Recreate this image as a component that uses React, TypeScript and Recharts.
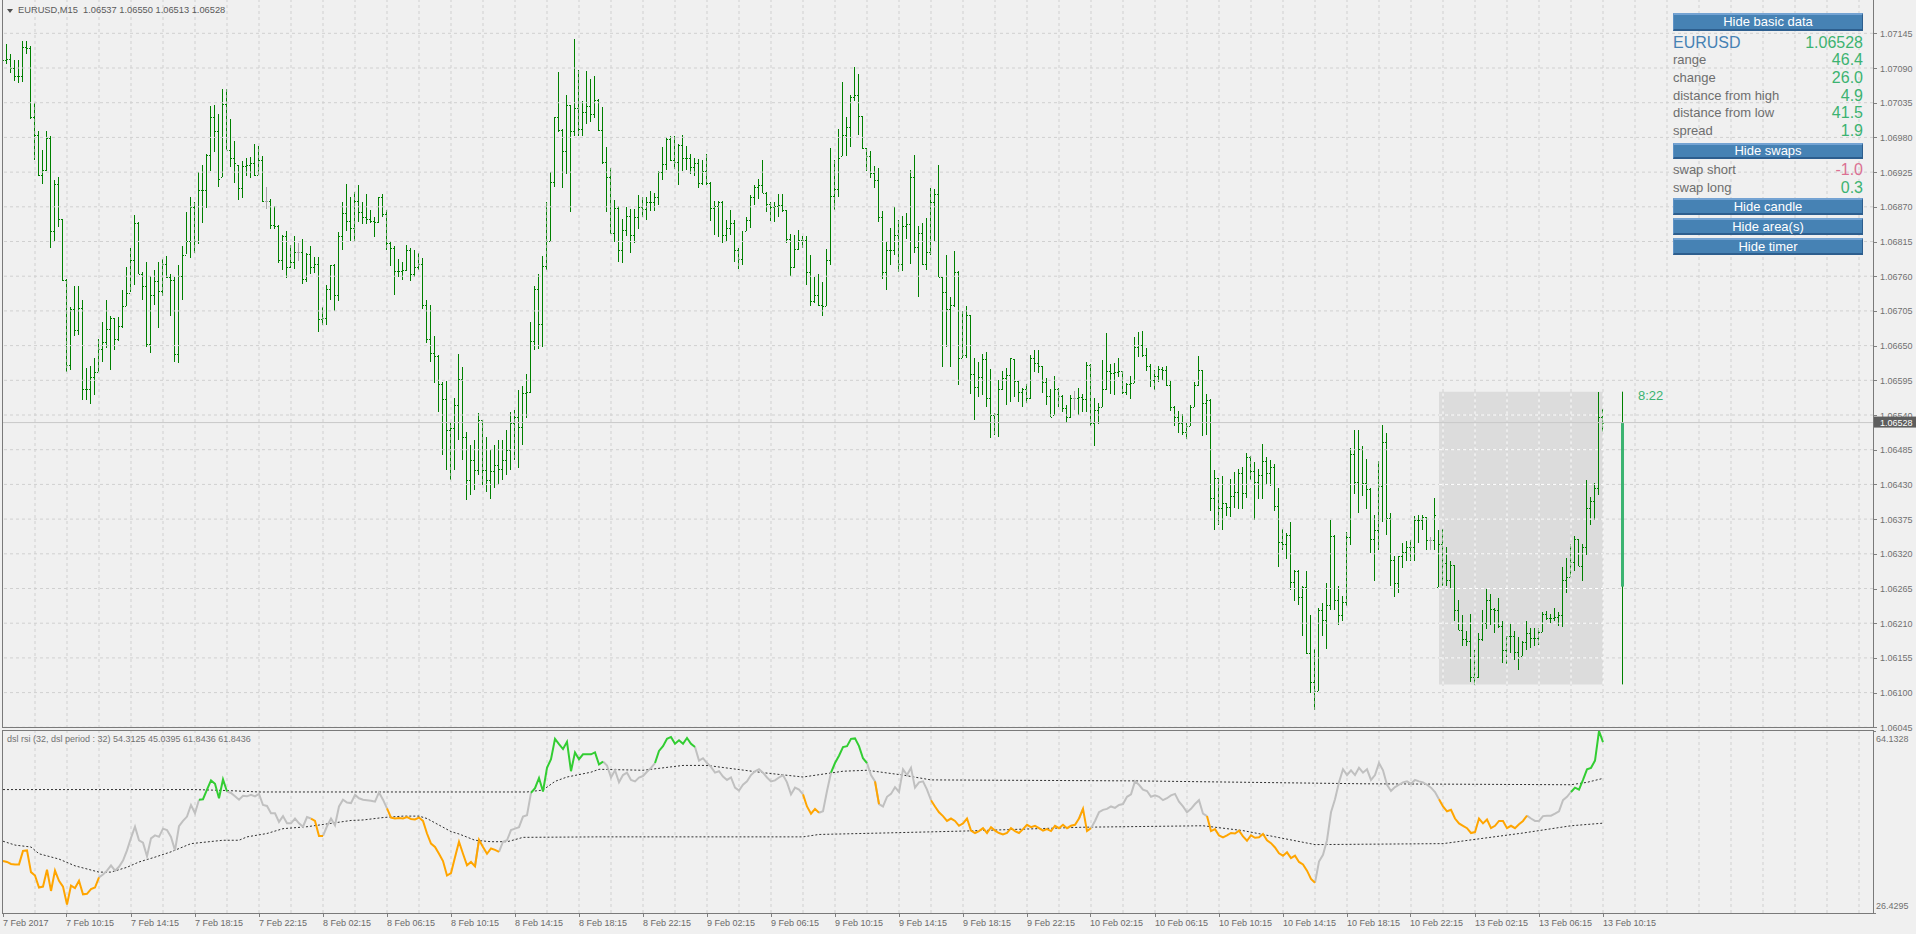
import React from 'react';
import { ComposedChart, Bar, Line, XAxis, YAxis, ReferenceLine, ReferenceArea } from 'recharts';

// EURUSD M15, prices in points (0.00001) above BASE
const BASE = 1.06;

const highs = [
  1120, 1128, 1112, 1103, 1103, 1133, 1133, 1125, 1034, 990, 960, 990, 982, 913, 917, 851, 756, 711, 744, 744,
  723, 614, 617, 630, 661, 688, 722, 697, 694, 696, 738, 775, 804, 857, 846, 766, 783, 761, 770, 782,
  788, 792, 763, 759, 778, 808, 861, 885, 877, 925, 936, 954, 1030, 1031, 1017, 1057, 1056, 1009, 974, 937,
  943, 947, 949, 970, 966, 951, 902, 882, 872, 841, 825, 832, 810, 824, 813, 819, 796, 808, 791, 791,
  711, 746, 778, 779, 830, 877, 906, 886, 894, 905, 877, 891, 865, 854, 886, 890, 865, 816, 808, 788,
  783, 809, 805, 801, 797, 789, 723, 714, 665, 635, 593, 594, 529, 567, 637, 616, 513, 492, 500, 543,
  532, 505, 485, 492, 500, 500, 516, 545, 548, 580, 586, 605, 688, 744, 764, 792, 878, 925, 1013, 1083,
  994, 1047, 1031, 1136, 1087, 1037, 1085, 1073, 1077, 1041, 1028, 965, 931, 881, 871, 851, 869, 866, 866, 889,
  886, 885, 895, 892, 926, 965, 980, 982, 982, 970, 984, 966, 954, 948, 946, 944, 954, 909, 879, 880,
  880, 849, 865, 849, 804, 832, 854, 889, 905, 914, 944, 894, 877, 878, 891, 890, 865, 827, 825, 833,
  824, 824, 794, 759, 764, 751, 803, 963, 944, 993, 1068, 1013, 1047, 1092, 1080, 1014, 964, 958, 935, 931,
  864, 816, 836, 869, 849, 856, 860, 928, 952, 839, 844, 852, 900, 899, 936, 759, 794, 727, 800, 769,
  705, 713, 699, 631, 624, 637, 640, 613, 543, 596, 610, 614, 631, 629, 594, 583, 589, 635, 643, 643,
  617, 598, 581, 602, 583, 571, 556, 572, 578, 583, 574, 624, 621, 567, 559, 627, 670, 621, 623, 631,
  610, 591, 602, 664, 671, 673, 646, 621, 611, 618, 616, 618, 594, 555, 547, 541, 527, 556, 592, 633,
  612, 573, 566, 453, 440, 443, 400, 438, 450, 454, 458, 479, 475, 466, 454, 494, 473, 469, 463, 424,
  359, 353, 370, 295, 294, 269, 293, 223, 169, 234, 242, 273, 374, 350, 269, 253, 354, 488, 517, 516,
  491, 470, 425, 382, 467, 524, 511, 384, 316, 317, 337, 340, 342, 380, 382, 381, 379, 346, 409, 358,
  359, 330, 308, 302, 247, 223, 197, 225, 168, 195, 231, 265, 256, 234, 250, 214, 190, 209, 197, 188,
  182, 214, 202, 202, 203, 228, 229, 224, 234, 228, 299, 314, 335, 349, 343, 335, 437, 410, 433, 577,
  550,
];

const lows = [
  1066, 1096, 1082, 1070, 1067, 1068, 1112, 1009, 944, 918, 906, 927, 804, 815, 838, 752, 609, 611, 665, 666,
  564, 564, 556, 572, 608, 625, 646, 611, 643, 658, 677, 713, 734, 746, 763, 722, 649, 639, 714, 677,
  729, 757, 696, 625, 623, 723, 794, 788, 796, 811, 844, 869, 927, 956, 902, 918, 959, 933, 907, 881,
  885, 919, 915, 920, 920, 878, 867, 834, 836, 780, 769, 758, 773, 771, 785, 747, 750, 763, 766, 672,
  682, 682, 722, 704, 721, 801, 831, 816, 816, 847, 842, 844, 844, 823, 844, 853, 802, 777, 731, 759,
  755, 767, 753, 758, 770, 708, 655, 623, 591, 545, 477, 453, 437, 453, 500, 469, 405, 413, 421, 445,
  429, 418, 408, 424, 429, 437, 445, 453, 469, 456, 492, 535, 576, 642, 645, 647, 770, 816, 902, 988,
  900, 922, 861, 982, 982, 981, 1001, 1005, 1010, 991, 938, 862, 827, 815, 782, 782, 823, 796, 812, 835,
  854, 849, 864, 864, 872, 913, 928, 943, 930, 905, 927, 928, 922, 920, 900, 904, 905, 847, 825, 823,
  813, 816, 825, 782, 771, 778, 832, 836, 873, 883, 891, 862, 847, 847, 854, 861, 812, 760, 772, 802,
  805, 746, 713, 717, 713, 697, 712, 777, 865, 886, 951, 951, 964, 1038, 984, 962, 927, 915, 900, 846,
  756, 739, 778, 793, 766, 769, 818, 779, 797, 726, 777, 769, 794, 817, 758, 616, 648, 616, 712, 589,
  631, 631, 573, 533, 569, 572, 553, 504, 508, 506, 580, 556, 561, 569, 561, 553, 559, 565, 608, 606,
  574, 555, 536, 540, 553, 544, 528, 535, 548, 540, 545, 544, 523, 491, 525, 553, 580, 574, 573, 601,
  573, 572, 565, 591, 631, 631, 609, 585, 580, 593, 596, 586, 547, 524, 512, 508, 502, 522, 552, 585,
  507, 508, 388, 358, 366, 357, 379, 377, 393, 391, 391, 407, 437, 374, 407, 407, 428, 428, 388, 298,
  326, 312, 262, 246, 238, 189, 161, 99, 73, 102, 189, 169, 231, 231, 207, 214, 237, 334, 416, 385,
  412, 390, 322, 278, 326, 371, 350, 268, 251, 259, 298, 308, 308, 308, 338, 357, 326, 325, 326, 268,
  269, 268, 265, 214, 199, 174, 173, 117, 113, 124, 182, 202, 207, 195, 202, 148, 145, 163, 151, 135,
  158, 168, 170, 173, 176, 196, 215, 209, 213, 206, 204, 258, 283, 294, 300, 276, 318, 366, 375, 413,
  513,
];

const closes = [
  1103, 1104, 1090, 1077, 1078, 1124, 1121, 1013, 984, 920, 928, 979, 831, 906, 850, 754, 620, 708, 674, 710,
  582, 581, 600, 608, 644, 655, 676, 693, 660, 681, 713, 734, 786, 845, 764, 744, 653, 730, 752, 737,
  779, 758, 754, 636, 760, 793, 816, 870, 816, 897, 896, 952, 1012, 990, 914, 1033, 960, 947, 939, 900,
  935, 937, 940, 921, 944, 879, 879, 841, 840, 785, 824, 775, 782, 798, 798, 755, 795, 775, 779, 692,
  693, 739, 777, 731, 824, 860, 847, 836, 879, 862, 854, 850, 847, 846, 885, 859, 813, 804, 769, 768,
  770, 801, 764, 775, 779, 714, 660, 639, 634, 589, 566, 516, 519, 556, 597, 505, 437, 469, 453, 532,
  453, 437, 452, 461, 454, 469, 485, 527, 537, 521, 575, 577, 658, 739, 685, 776, 816, 910, 1012, 992,
  959, 1032, 990, 1026, 993, 1020, 1030, 1017, 1040, 992, 941, 918, 829, 868, 801, 834, 855, 825, 854, 869,
  866, 878, 877, 886, 925, 938, 977, 944, 941, 968, 948, 947, 933, 939, 908, 926, 907, 868, 871, 877,
  825, 836, 844, 802, 788, 816, 849, 886, 902, 905, 892, 875, 870, 871, 873, 865, 819, 774, 803, 817,
  818, 767, 721, 731, 714, 712, 785, 887, 898, 947, 984, 996, 1044, 1047, 1014, 964, 950, 923, 912, 854,
  766, 802, 801, 825, 779, 840, 843, 918, 806, 828, 779, 799, 878, 890, 759, 735, 708, 714, 767, 631,
  635, 699, 605, 585, 601, 629, 567, 540, 542, 582, 598, 603, 630, 594, 577, 582, 567, 631, 622, 617,
  593, 570, 537, 582, 570, 551, 537, 567, 567, 569, 566, 620, 527, 548, 553, 582, 609, 606, 608, 609,
  577, 589, 591, 648, 651, 635, 618, 596, 602, 613, 612, 587, 553, 537, 527, 513, 522, 553, 587, 612,
  559, 564, 408, 440, 392, 400, 394, 411, 418, 448, 417, 474, 452, 434, 445, 467, 448, 458, 396, 338,
  335, 350, 276, 292, 252, 268, 162, 117, 103, 231, 215, 239, 348, 247, 223, 243, 347, 478, 434, 486,
  432, 423, 343, 358, 427, 497, 376, 310, 273, 316, 323, 331, 330, 373, 374, 379, 342, 342, 381, 336,
  305, 279, 302, 231, 200, 185, 182, 125, 124, 185, 210, 246, 232, 231, 205, 167, 189, 190, 165, 156,
  181, 194, 187, 186, 196, 225, 219, 218, 220, 223, 278, 283, 307, 343, 300, 330, 392, 403, 424, 537,
  528,
];

// opens follow the previous close except where a gap is visible
const gapOpens: Record<number, number> = { 0: 1105, 359: 268 };
const dojiBars = [66, 74, 268, 357];

// today's candle, range box, last price
const dayCandle = { i: 405, open: 268, high: 577, low: 113, close: 528 };
const dayBox = { from: 359, to: 400, high: 577, low: 113 };
const lastPrice = 528;

const priceTicks = [45, 100, 155, 210, 265, 320, 375, 430, 485, 540, 595, 650, 705, 760, 815, 870, 925, 980, 1035, 1090, 1145];

const timeLabels = [
  '7 Feb 2017', '7 Feb 10:15', '7 Feb 14:15', '7 Feb 18:15', '7 Feb 22:15',
  '8 Feb 02:15', '8 Feb 06:15', '8 Feb 10:15', '8 Feb 14:15', '8 Feb 18:15', '8 Feb 22:15',
  '9 Feb 02:15', '9 Feb 06:15', '9 Feb 10:15', '9 Feb 14:15', '9 Feb 18:15', '9 Feb 22:15',
  '10 Feb 02:15', '10 Feb 06:15', '10 Feb 10:15', '10 Feb 14:15', '10 Feb 18:15', '10 Feb 22:15',
  '13 Feb 02:15', '13 Feb 06:15', '13 Feb 10:15',
];
const labelEvery = 16;
const gridEvery = 8;

// dsl rsi
const rsi = [
  37.2, 37.0, 36.6, 36.5, 36.5, 39.3, 39.4, 34.9, 34.2, 31.7, 31.9, 35.4, 31.0, 35.2, 33.1, 31.9, 28.2, 32.1, 31.6, 33.1,
  30.3, 30.4, 31.4, 31.7, 33.8, 34.4, 35.2, 36.3, 35.2, 36.0, 37.3, 39.4, 42.0, 44.3, 41.5, 41.0, 38.2, 41.9, 42.5, 42.2,
  43.9, 43.6, 42.2, 39.4, 44.4, 45.5, 46.4, 48.8, 47.1, 49.9, 50.0, 52.0, 53.9, 53.2, 50.2, 54.1, 51.6, 51.3, 50.6, 49.9,
  50.7, 50.6, 50.9, 50.6, 51.1, 48.8, 48.6, 47.1, 47.1, 45.3, 46.5, 45.0, 45.0, 46.0, 45.0, 44.3, 46.3, 46.0, 45.5, 42.4,
  42.4, 44.4, 46.0, 44.6, 48.5, 49.9, 49.3, 49.2, 50.9, 50.2, 49.9, 49.8, 49.7, 49.5, 51.4, 49.9, 48.1, 46.2, 46.0, 46.1,
  46.0, 46.3, 45.9, 45.8, 46.2, 45.5, 42.9, 40.8, 40.1, 38.7, 37.2, 34.2, 34.7, 38.0, 41.2, 38.7, 36.3, 37.0, 36.1, 41.6,
  40.1, 38.7, 39.8, 39.5, 39.1, 41.2, 41.5, 43.6, 43.9, 44.2, 46.4, 46.7, 51.3, 52.3, 54.4, 51.6, 56.5, 58.3, 62.5, 61.4,
  60.4, 61.9, 55.8, 59.7, 58.3, 59.3, 59.3, 59.3, 59.7, 57.2, 57.8, 57.0, 54.5, 56.0, 53.5, 55.0, 55.5, 54.0, 53.7, 54.5,
  54.8, 55.7, 56.5, 57.5, 60.0, 61.0, 62.5, 62.9, 61.5, 62.2, 61.5, 62.7, 61.5, 60.8, 58.0, 58.5, 57.5, 56.7, 55.5, 55.8,
  54.7, 54.0, 54.5, 52.4, 51.8, 53.0, 53.7, 55.0, 55.8, 56.2, 55.5, 54.5, 53.7, 53.9, 54.5, 55.0, 53.5, 51.0, 52.4, 52.0,
  51.0, 48.5, 47.0, 48.0, 47.2, 47.5, 51.7, 55.5, 57.5, 59.0, 60.8, 61.0, 62.5, 62.6, 61.0, 58.5, 57.5, 55.0, 53.7, 49.0,
  48.5, 50.5, 51.1, 52.5, 51.5, 56.2, 55.0, 56.5, 52.4, 53.5, 53.7, 52.0, 49.8, 48.5, 47.3, 46.5, 45.5, 46.0, 45.5, 44.5,
  45.0, 46.0, 43.5, 43.0, 43.4, 44.0, 43.0, 44.2, 43.5, 43.0, 42.7, 43.0, 44.0, 43.4, 43.0, 43.8, 44.7, 44.2, 44.5, 44.0,
  43.5, 43.8, 43.4, 44.5, 44.0, 44.7, 44.0, 44.5, 44.7, 46.0, 48.0, 43.4, 44.0, 45.5, 47.3, 47.8, 48.0, 48.5, 48.2, 48.8,
  49.0, 50.5, 51.0, 53.7, 53.0, 52.0, 51.7, 50.5, 50.8, 50.5, 49.8, 50.2, 50.8, 51.1, 49.5, 48.5, 47.3, 48.0, 49.0, 49.8,
  47.0, 46.5, 43.4, 43.8, 42.5, 42.1, 42.5, 43.0, 42.9, 43.5, 42.3, 41.4, 42.5, 42.0, 42.1, 42.8, 41.5, 40.9, 40.0, 38.8,
  38.3, 39.0, 37.8, 38.3, 37.0, 36.5, 35.2, 33.5, 32.7, 37.1, 38.5, 41.5, 47.3, 50.0, 53.5, 56.2, 55.0, 56.0, 55.0, 56.5,
  55.5, 56.2, 54.0, 55.0, 57.5, 56.0, 53.0, 51.7, 52.5, 53.0, 53.5, 53.7, 53.2, 54.0, 53.7, 53.5, 53.0, 52.4, 51.5, 50.0,
  48.5, 47.5, 47.8, 46.0, 45.0, 44.5, 44.0, 43.0, 43.2, 46.0, 45.0, 45.8, 44.0, 44.5, 45.5, 45.5, 44.0, 44.5, 44.0, 44.8,
  45.5, 46.6, 46.0, 45.5, 45.5, 46.5, 46.6, 46.6, 47.0, 47.5, 49.8, 50.5, 51.5, 52.4, 52.0, 54.0, 56.2, 56.5, 58.0, 64.13,
  61.84,
];

// signal levels read at bars where they can be placed
const upperLevel: [number, number][] = [
  [0, 52.0], [48, 52.0], [56, 51.8], [64, 51.5], [131, 51.5], [135, 51.9], [138, 53.7], [141, 54.6], [144, 55.1],
  [147, 55.6], [149, 56.2], [160, 56.0], [170, 57.0], [176, 57.0], [190, 55.5], [200, 54.6], [210, 55.8], [216, 56.0],
  [225, 55.0], [232, 54.0], [283, 53.8], [340, 53.2], [392, 53.0], [396, 53.5], [400, 54.31],
];
const lowerLevel: [number, number][] = [
  [0, 41.3], [3, 40.5], [7, 40.1], [9, 38.7], [14, 37.6], [18, 36.2], [24, 34.9], [27, 34.9], [31, 35.9], [34, 37.0],
  [38, 38.0], [42, 39.1], [47, 40.8], [55, 41.5], [59, 41.5], [61, 42.2], [66, 42.9], [70, 43.9], [76, 44.3], [82, 45.0],
  [87, 45.6], [90, 45.7], [95, 46.2], [100, 46.5], [104, 46.5], [106, 46.0], [112, 43.3], [114, 42.8], [118, 41.5],
  [122, 41.2], [126, 41.2], [127, 41.4], [130, 42.1], [149, 42.2], [200, 42.2], [204, 42.7], [220, 43.0], [240, 43.4],
  [270, 44.2], [300, 44.5], [310, 43.5], [328, 40.6], [360, 40.8], [380, 43.0], [392, 44.5], [400, 45.04],
];

// colour runs of the rsi line (bar ranges, inclusive)
const greenRuns = [[50, 56], [133, 150], [164, 173], [208, 216], [393, 400]];
const orangeRuns = [[0, 24], [78, 80], [97, 118], [120, 124], [201, 204], [219, 219], [233, 269], [271, 272], [302, 328], [360, 381]];

const RSI_MAX = 64.1328;
const RSI_MIN = 26.4295;

const W = 1916;
const AXIS_W = 43;
const X_DOMAIN: [number, number] = [-0.25, 467.5];
const MAIN_H = 728;
const PRICE_DOMAIN: [number, number] = [43.9, 1197.8];

const FONT = "'Liberation Sans', Arial, sans-serif";
const GRID = '#d0d0d0';
const BAR_GREEN = '#008000';

const fmt = (v: number) => (BASE + v / 100000).toFixed(5);

const priceRows: any[] = highs.map((h, i) => ({
  i,
  high: h,
  low: lows[i],
  close: closes[i],
  open: gapOpens[i] ?? closes[i - 1],
  kind: dojiBars.includes(i) ? 'doji' : 'bar',
}));
priceRows.push({ ...dayCandle, kind: 'candle' });

const inRuns = (runs: number[][], i: number) => runs.some(([a, b]) => i >= a && i <= b);
const colourOf = (i: number) => (inRuns(greenRuns, i) ? 'g' : inRuns(orangeRuns, i) ? 'o' : 's');

const rsiRows: any[] = rsi.map((v, i) => {
  const row: any = { i };
  for (const c of ['g', 'o', 's']) {
    row[c] = colourOf(i) === c || (i + 1 < rsi.length && colourOf(i + 1) === c) ? v : null;
  }
  return row;
});
upperLevel.forEach(([i, v]) => { rsiRows[i].up = v; });
lowerLevel.forEach(([i, v]) => { rsiRows[i].dn = v; });

const gridBars: number[] = [];
for (let k = gridEvery; k <= 464; k += gridEvery) gridBars.push(k);
const labelBars = timeLabels.map((_, k) => k * labelEvery);

const OhlcShape = (props: any) => {
  const { x, y, width, height, payload } = props;
  if (!payload || x == null || isNaN(x)) return null;
  const col = Math.floor(x + width / 2);
  const top = Math.min(y, y + height);
  const h = Math.abs(height);
  const span = payload.high - payload.low || 1;
  const toY = (v: number) => top + ((payload.high - Math.min(payload.high, Math.max(payload.low, v))) / span) * h;
  if (payload.kind === 'candle') {
    const yo = toY(payload.open);
    const yc = toY(payload.close);
    return (
      <g>
        <rect x={col} y={top} width={1} height={h} fill={BAR_GREEN} />
        <rect x={col - 1} y={Math.min(yo, yc)} width={3} height={Math.abs(yo - yc)} fill="#3cb371" />
      </g>
    );
  }
  const color = payload.kind === 'doji' ? '#a9a9a9' : BAR_GREEN;
  return (
    <g fill={color}>
      <rect x={col} y={Math.round(top)} width={1} height={Math.max(1, Math.round(h))} />
      <rect x={col - 1} y={Math.round(toY(payload.open))} width={1} height={1} />
      <rect x={col + 1} y={Math.round(toY(payload.close))} width={1} height={1} />
    </g>
  );
};

const PriceTick = (props: any) => {
  const { x, y, payload } = props;
  if (payload.value === lastPrice) {
    return (
      <g>
        <rect x={x} y={y - 6} width={43} height={11} fill="#5e5e5e" />
        <text x={x + 7} y={y} dy={3.5} fontSize={9} fontFamily={FONT} fill="#ffffff">{fmt(payload.value)}</text>
      </g>
    );
  }
  return (
    <g>
      <rect x={x + 1} y={Math.round(y)} width={3} height={1} fill="#808080" />
      <text x={x + 7} y={y} dy={3.5} fontSize={9} fontFamily={FONT} fill="#707070">{fmt(payload.value)}</text>
    </g>
  );
};

const TimeTick = (props: any) => {
  const { x, y, payload } = props;
  const label = timeLabels[Math.round(payload.value / labelEvery)];
  return (
    <g>
      <rect x={Math.floor(x)} y={y} width={1} height={4} fill="#808080" />
      <text x={Math.floor(x)} y={y + 9} dy={3.5} fontSize={9} fontFamily={FONT} fill="#6a6a6a">{label}</text>
    </g>
  );
};

const RsiTick = (props: any) => {
  const { x, y, payload } = props;
  const isTop = payload.value === RSI_MAX;
  return (
    <g>
      <rect x={x + 1} y={Math.round(y)} width={2} height={1} fill="#808080" />
      <text x={x + 3} y={isTop ? y + 7 : y - 8} dy={3.5} fontSize={9} fontFamily={FONT} fill="#707070">
        {payload.value.toFixed(4)}
      </text>
    </g>
  );
};

const infoRows = [
  { label: 'range', value: '46.4', color: '#3cb371', y: 60 },
  { label: 'change', value: '26.0', color: '#3cb371', y: 78 },
  { label: 'distance from high', value: '4.9', color: '#3cb371', y: 96 },
  { label: 'distance from low', value: '41.5', color: '#3cb371', y: 113 },
  { label: 'spread', value: '1.9', color: '#3cb371', y: 131 },
  { label: 'swap short', value: '-1.0', color: '#db7093', y: 170 },
  { label: 'swap long', value: '0.3', color: '#3cb371', y: 188 },
];
const buttons = [
  { text: 'Hide basic data', top: 13, h: 18 },
  { text: 'Hide swaps', top: 143, h: 16 },
  { text: 'Hide candle', top: 198, h: 17 },
  { text: 'Hide area(s)', top: 218, h: 17 },
  { text: 'Hide timer', top: 238, h: 17 },
];

const abs = (left: number, top: number, extra: React.CSSProperties = {}): React.CSSProperties => ({
  position: 'absolute', left, top, ...extra,
});

export default function App() {
  return (
    <div style={{ position: 'absolute', left: 0, top: 0, width: W, height: 934, background: '#f0f0f0', overflow: 'hidden', fontFamily: FONT }}>
      <style>{'.recharts-surface{overflow:visible}'}</style>
      <div style={abs(0, 0)}>
        <ComposedChart width={W} height={MAIN_H} data={priceRows} margin={{ top: 0, right: 0, bottom: 0, left: 2 }}>
          <XAxis dataKey="i" type="number" domain={X_DOMAIN} hide allowDataOverflow />
          <YAxis
            orientation="right"
            width={AXIS_W}
            domain={PRICE_DOMAIN}
            ticks={[...priceTicks, lastPrice]}
            interval={0}
            tick={<PriceTick />}
            tickSize={0}
            tickMargin={0}
            axisLine={false}
            tickLine={false}
            allowDataOverflow
          />
          <ReferenceArea x1={dayBox.from} x2={dayBox.to} y1={dayBox.low} y2={dayBox.high} fill="#dcdcdc" fillOpacity={1} stroke="none" />
          {gridBars.map((v) => (
            <ReferenceLine key={'gx' + v} x={v} stroke={GRID} strokeDasharray="3 3" />
          ))}
          {priceTicks.map((v) => (
            <ReferenceLine key={'gy' + v} y={v} stroke={GRID} strokeDasharray="3 3" />
          ))}
          {gridBars.filter((v) => v >= dayBox.from && v <= dayBox.to).map((v) => (
            <ReferenceLine key={'wx' + v} segment={[{ x: v, y: dayBox.low }, { x: v, y: dayBox.high }]} stroke="#ffffff" strokeDasharray="3 3" />
          ))}
          {priceTicks.filter((v) => v >= dayBox.low && v <= dayBox.high).map((v) => (
            <ReferenceLine key={'wy' + v} segment={[{ x: dayBox.from, y: v }, { x: dayBox.to, y: v }]} stroke="#ffffff" strokeDasharray="3 3" />
          ))}
          <ReferenceLine y={lastPrice} stroke="#c8c8c8" />
          <Bar dataKey={(d: any) => [d.low, d.high]} shape={OhlcShape} barSize={3} isAnimationActive={false} />
        </ComposedChart>
      </div>

      <div style={abs(0, 729)}>
        <ComposedChart width={W} height={205} data={rsiRows} margin={{ top: 2, right: 0, bottom: 0, left: 2 }}>
          <XAxis
            dataKey="i"
            type="number"
            domain={X_DOMAIN}
            ticks={labelBars}
            interval={0}
            tick={<TimeTick />}
            tickSize={0}
            tickMargin={0}
            height={21}
            axisLine={false}
            tickLine={false}
            allowDataOverflow
          />
          <YAxis
            orientation="right"
            width={AXIS_W}
            domain={[RSI_MIN, RSI_MAX]}
            ticks={[RSI_MIN, RSI_MAX]}
            interval={0}
            tick={<RsiTick />}
            tickSize={0}
            tickMargin={0}
            axisLine={false}
            tickLine={false}
            allowDataOverflow
          />
          {gridBars.map((v) => (
            <ReferenceLine key={'rx' + v} x={v} stroke={GRID} strokeDasharray="3 3" />
          ))}
          <Line dataKey="up" connectNulls stroke="#303030" strokeWidth={1} strokeDasharray="2 2" dot={false} isAnimationActive={false} />
          <Line dataKey="dn" connectNulls stroke="#303030" strokeWidth={1} strokeDasharray="2 2" dot={false} isAnimationActive={false} />
          <Line dataKey="s" stroke="#c0c0c0" strokeWidth={2} dot={false} isAnimationActive={false} />
          <Line dataKey="o" stroke="#ffa500" strokeWidth={2} dot={false} isAnimationActive={false} />
          <Line dataKey="g" stroke="#32cd32" strokeWidth={2} dot={false} isAnimationActive={false} />
        </ComposedChart>
      </div>

      {/* panel frames */}
      <div style={abs(2, -1, { width: 1872, height: 729, border: '1px solid #7a7a7a', boxSizing: 'border-box', pointerEvents: 'none' })} />
      <div style={abs(2, 730, { width: 1872, height: 184, border: '1px solid #7a7a7a', boxSizing: 'border-box', pointerEvents: 'none' })} />

      {/* chart titles */}
      <div style={abs(7, 9, { width: 0, height: 0, borderLeft: '3px solid transparent', borderRight: '3px solid transparent', borderTop: '4px solid #505050' })} />
      <div style={abs(18, 5, { fontSize: 9.3, lineHeight: '11px', color: '#5a5a5a', whiteSpace: 'pre' })}>
        {'EURUSD,M15  1.06537 1.06550 1.06513 1.06528'}
      </div>
      <div style={abs(7, 734, { fontSize: 9, lineHeight: '11px', color: '#707070', whiteSpace: 'pre' })}>
        {'dsl rsi (32, dsl period : 32) 54.3125 45.0395 61.8436 61.8436'}
      </div>

      {/* timer */}
      <div style={abs(1638, 388, { fontSize: 13, lineHeight: '15px', color: '#3cb371' })}>8:22</div>

      {/* info panel */}
      {buttons.map((b) => (
        <div
          key={b.text}
          style={abs(1673, b.top, {
            width: 190, height: b.h, boxSizing: 'border-box', background: '#4682b4',
            borderTop: '2px solid #74a3d3', borderBottom: '2px solid #2d5e8e', borderLeft: '1px solid #5f93c6', borderRight: '1px solid #2d5e8e',
            color: '#ffffff', fontSize: 13, lineHeight: `${b.h - 4}px`, textAlign: 'center',
          })}
        >
          {b.text}
        </div>
      ))}
      <div style={abs(1673, 34, { fontSize: 16, lineHeight: '18px', color: '#4682b4' })}>EURUSD</div>
      <div style={abs(1763, 34, { width: 100, textAlign: 'right', fontSize: 16, lineHeight: '18px', color: '#3cb371' })}>1.06528</div>
      {infoRows.map((r) => (
        <React.Fragment key={r.label}>
          <div style={abs(1673, r.y - 8, { fontSize: 13, lineHeight: '16px', color: '#6e6e6e' })}>{r.label}</div>
          <div style={abs(1763, r.y - 9, { width: 100, textAlign: 'right', fontSize: 16, lineHeight: '18px', color: r.color })}>{r.value}</div>
        </React.Fragment>
      ))}
    </div>
  );
}
